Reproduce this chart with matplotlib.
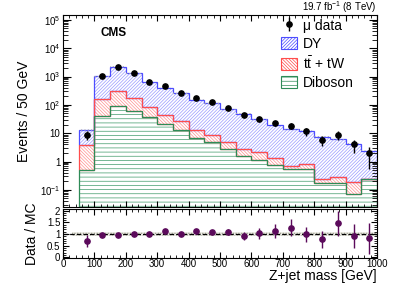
import numpy as np
import matplotlib
matplotlib.use('Agg')
import matplotlib.pyplot as plt
from matplotlib.patches import Patch
from matplotlib.ticker import FixedLocator, FuncFormatter, NullFormatter, LogLocator, MultipleLocator

plt.rcParams['font.family'] = ['Liberation Sans', 'DejaVu Sans']
plt.rcParams['mathtext.fontset'] = 'custom'
plt.rcParams['mathtext.rm'] = 'Liberation Sans'
plt.rcParams['mathtext.it'] = 'Liberation Sans:italic'
plt.rcParams['mathtext.bf'] = 'Liberation Sans:bold'
plt.rcParams['hatch.linewidth'] = 0.5

# bin edges, 50 GeV bins
edges = np.arange(50, 1001, 50)
centers = edges[:-1] + 25

# stack components (events / 50 GeV)
diboson = [0.49, 40, 88, 62, 36, 22, 13, 6.9, 4.8, 2.8, 1.6, 1.18, 0.78, 0.55, 0.55, 0.18, 0.18, 0.074, 0.245]
ttbar = [3.3, 124, 222, 108, 47, 22, 13.5, 6.6, 4.2, 2.2, 1.2, 1.0, 0.57, 0.17, 0.28, 0.07, 0.11, 0.11, 0.0]
dy = [9.0, 896, 1870, 1130, 557, 356, 241, 141, 111, 64, 45, 30, 18.6, 13.6, 11.0, 7.4, 5.8, 4.1, 2.15]

# muon data
data = [9.0, 1040, 2110, 1330, 640, 450, 273, 175, 131, 76, 44, 33, 23, 18.3, 11.7, 5.9, 8.9, 4.0, 1.95]
data_err = [3.0, 32, 46, 36, 25, 21, 16.5, 13, 11.5, 8.7, 6.6, 5.7, 4.8, 4.3, 3.4, 2.4, 3.0, 2.0, 1.4]

# data / MC
ratio = [0.70, 0.98, 0.97, 1.02, 1.0, 1.12, 1.02, 1.13, 1.09, 1.10, 0.91, 1.03, 1.14, 1.28, 0.99, 0.77, 1.46, 0.92, 0.81]
ratio_err = [0.25, 0.04, 0.03, 0.04, 0.05, 0.06, 0.07, 0.08, 0.1, 0.12, 0.18, 0.23, 0.29, 0.35, 0.33, 0.36, 0.54, 0.5, 0.65]

c_dy, h_dy = '#4d4dff', '#9a9aff'
c_tt, h_tt = '#ff4d4d', '#ff9090'
c_vv, h_vv = '#2e8b57', '#3f9a6a'
hatch_dy = '/' * 10
hatch_tt = '\\' * 10
hatch_vv = '-' * 4

fig = plt.figure(figsize=(3.99, 2.87), dpi=100)
ax = fig.add_axes([0.158, 0.279, 0.787, 0.669])
rax = fig.add_axes([0.158, 0.101, 0.787, 0.171])

vv = np.array(diboson)
tt = vv + np.array(ttbar)
tot = tt + np.array(dy)
base = 1e-3

# stack, largest first
ax.stairs(tot, edges, baseline=tt, fill=True, facecolor='white', edgecolor=h_dy, hatch=hatch_dy, lw=0)
ax.stairs(tt, edges, baseline=vv, fill=True, facecolor='white', edgecolor=h_tt, hatch=hatch_tt, lw=0)
ax.stairs(vv, edges, baseline=base, fill=True, facecolor='white', edgecolor=h_vv, hatch=hatch_vv, lw=0)
ax.stairs(tot, edges, baseline=tt, color=c_dy, lw=0.9)
ax.stairs(tt, edges, baseline=vv, color=c_tt, lw=0.9)
ax.stairs(vv, edges, baseline=base, color=c_vv, lw=0.9)

# MC uncertainty band
band = np.append(tot, tot[-1])
ax.fill_between(edges, band * 0.93, band * 1.07, step='post',
                facecolor='none', edgecolor='#b0b0b0', hatch='.....', lw=0)

ax.errorbar(centers, data, yerr=data_err, fmt='o', color='black', ms=3.8, lw=1.0, capsize=0)

ax.set_yscale('log')
ax.set_xlim(0, 1000)
ax.set_ylim(0.025, 1.5e5)

def log_fmt(v, pos):
    e = int(round(np.log10(v)))
    if e == 0:
        return '1'
    if e == 1:
        return '10'
    return '10$^{%d}$' % e

ax.yaxis.set_major_locator(FixedLocator([1e-1, 1, 10, 1e2, 1e3, 1e4, 1e5]))
ax.yaxis.set_major_formatter(FuncFormatter(log_fmt))
ax.yaxis.set_minor_locator(LogLocator(base=10, subs=np.arange(2, 10), numticks=20))
ax.yaxis.set_minor_formatter(NullFormatter())
ax.xaxis.set_major_locator(MultipleLocator(100))
ax.xaxis.set_minor_locator(MultipleLocator(20))
ax.tick_params(axis='x', labelbottom=False)
ax.tick_params(which='both', direction='in', top=True, right=True, labelsize=7, pad=2)
ax.tick_params(axis='y', which='major', length=6, width=0.8)
ax.tick_params(axis='y', which='minor', length=3.5, width=0.6)
ax.tick_params(axis='x', which='major', length=4, width=0.8)
ax.tick_params(axis='x', which='minor', length=2.5, width=0.6)
ax.set_ylabel('Events / 50 GeV', fontsize=10, labelpad=6)

ax.text(0.12, 0.905, 'CMS', transform=ax.transAxes, fontsize=8.5, fontweight='bold', ha='left', va='center')
fig.text(0.945, 0.975, '19.7 fb$^{-1}$ (8 TeV)', fontsize=7, ha='right', va='center')

handles = [
    ax.errorbar([], [], yerr=[], fmt='o', color='black', ms=3.8, lw=1.0),
    Patch(facecolor='white', edgecolor=c_dy, hatch=hatch_dy, lw=0.8),
    Patch(facecolor='white', edgecolor=c_tt, hatch=hatch_tt, lw=0.8),
    Patch(facecolor='white', edgecolor=c_vv, hatch=hatch_vv, lw=0.8),
]
labels = ['μ data', 'DY', r'$\mathrm{t\bar{t}}$ + tW', 'Diboson']
fig.legend(handles, labels, loc='upper left', bbox_to_anchor=(0.705, 0.935), frameon=False,
           fontsize=10, handlelength=1.15, handleheight=0.95, labelspacing=0.3, handletextpad=0.4,
           borderaxespad=0, borderpad=0)

# ratio panel
rax.fill_between([30, 1000], [0.9, 0.9], [1.1, 1.1], facecolor='#ecece6', edgecolor='#9c9c8c',
                 hatch='......', lw=0)
rax.axhline(1, color='black', ls='--', lw=0.9)
rax.errorbar(centers, ratio, yerr=ratio_err, fmt='o', color='#5b0a5b', ms=3.8, lw=1.0, capsize=0)
rax.set_xlim(0, 1000)
rax.set_ylim(-0.03, 2.08)
rax.xaxis.set_major_locator(MultipleLocator(100))
rax.xaxis.set_minor_locator(MultipleLocator(20))
rax.yaxis.set_major_locator(MultipleLocator(0.5))
rax.yaxis.set_minor_locator(MultipleLocator(0.1))
rax.yaxis.set_major_formatter(FuncFormatter(lambda v, p: '%g' % v))
rax.tick_params(which='both', direction='in', top=True, right=True, labelsize=7, pad=2)
rax.tick_params(axis='x', which='both', pad=0.8)
rax.tick_params(which='major', length=4, width=0.8)
rax.tick_params(which='minor', length=2.5, width=0.6)
rax.set_ylabel('Data / MC', fontsize=10, labelpad=6)
fig.text(0.945, 0.038, 'Z+jet mass [GeV]', fontsize=10, ha='right', va='center')

fig.align_ylabels([ax, rax])
fig.savefig('out.png', dpi=100)
